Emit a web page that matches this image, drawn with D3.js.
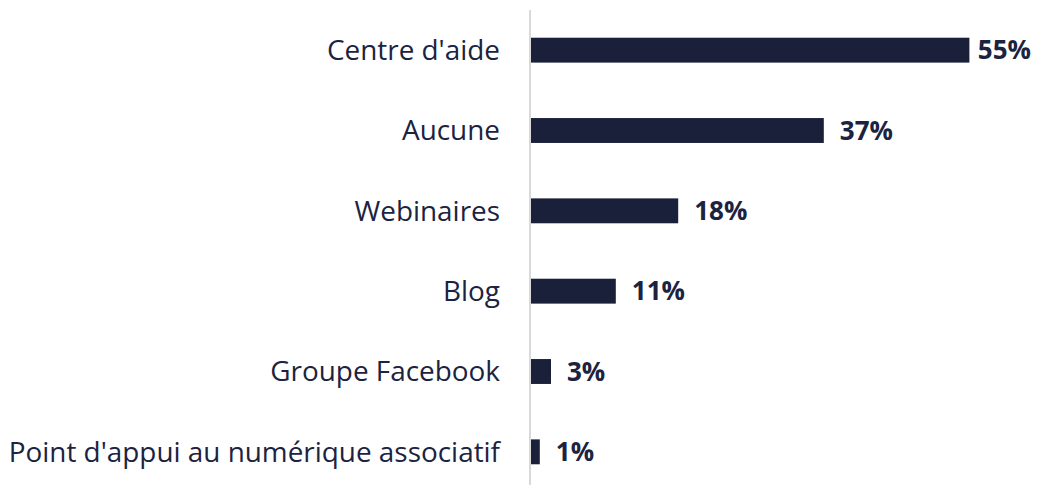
<!DOCTYPE html>
<html>
<head>
<meta charset="utf-8">
<script src="https://cdn.jsdelivr.net/npm/d3@7"></script>
<style>
  body { margin: 0; background: #fff; }
  text { font-family: "Open Sans", sans-serif; fill: #1c2340; }
</style>
</head>
<body>
<div id="chart"></div>
<script>
// data
var categories = ["Centre d'aide", "Aucune", "Webinaires", "Blog", "Groupe Facebook", "Point d'appui au numérique associatif"];
// bar lengths (labels are rounded)
var values = [54.8, 36.6, 18.4, 10.6, 2.5, 1.1];
var valueLabels = ["55%", "37%", "18%", "11%", "3%", "1%"];

var data = categories.map(function(c, i) { return {name: c, value: values[i], label: valueLabels[i]}; });

var width = 1037, height = 485;
var x0 = 531;

var svg = d3.select("#chart").append("svg")
    .attr("width", width)
    .attr("height", height);

var x = d3.scaleLinear()
    .domain([0, 55])
    .range([x0, 971]);

var y = d3.scaleBand()
    .domain(categories)
    .range([10, 492])
    .paddingInner(0.69)
    .paddingOuter(0.345);

// bars
svg.selectAll(".bar")
    .data(data)
  .enter().append("rect")
    .attr("class", "bar")
    .attr("x", x(0))
    .attr("y", function(d) { return y(d.name); })
    .attr("width", function(d) { return x(d.value) - x(0); })
    .attr("height", y.bandwidth())
    .attr("fill", "#1a2039");

// axis line
svg.append("line")
    .attr("x1", x0 - 1).attr("x2", x0 - 1)
    .attr("y1", 10).attr("y2", height)
    .attr("stroke", "#d9d9d9")
    .attr("stroke-width", 2);

// category labels
svg.selectAll(".cat")
    .data(data)
  .enter().append("text")
    .attr("class", "cat")
    .attr("x", 500)
    .attr("y", function(d) { return y(d.name) + y.bandwidth() / 2; })
    .attr("dy", "0.35em")
    .attr("text-anchor", "end")
    .style("font-size", "27.9px")
    .text(function(d) { return d.name; });

// value labels, kept inside the right edge
svg.selectAll(".val")
    .data(data)
  .enter().append("text")
    .attr("class", "val")
    .attr("y", function(d) { return y(d.name) + y.bandwidth() / 2; })
    .attr("dy", "0.35em")
    .style("font-size", "26px")
    .style("font-weight", "bold")
    .text(function(d) { return d.label; })
    .attr("x", function(d) {
      var w = this.getComputedTextLength();
      return Math.min(x(d.value) + 16, width - 6 - w);
    });
</script>
</body>
</html>
